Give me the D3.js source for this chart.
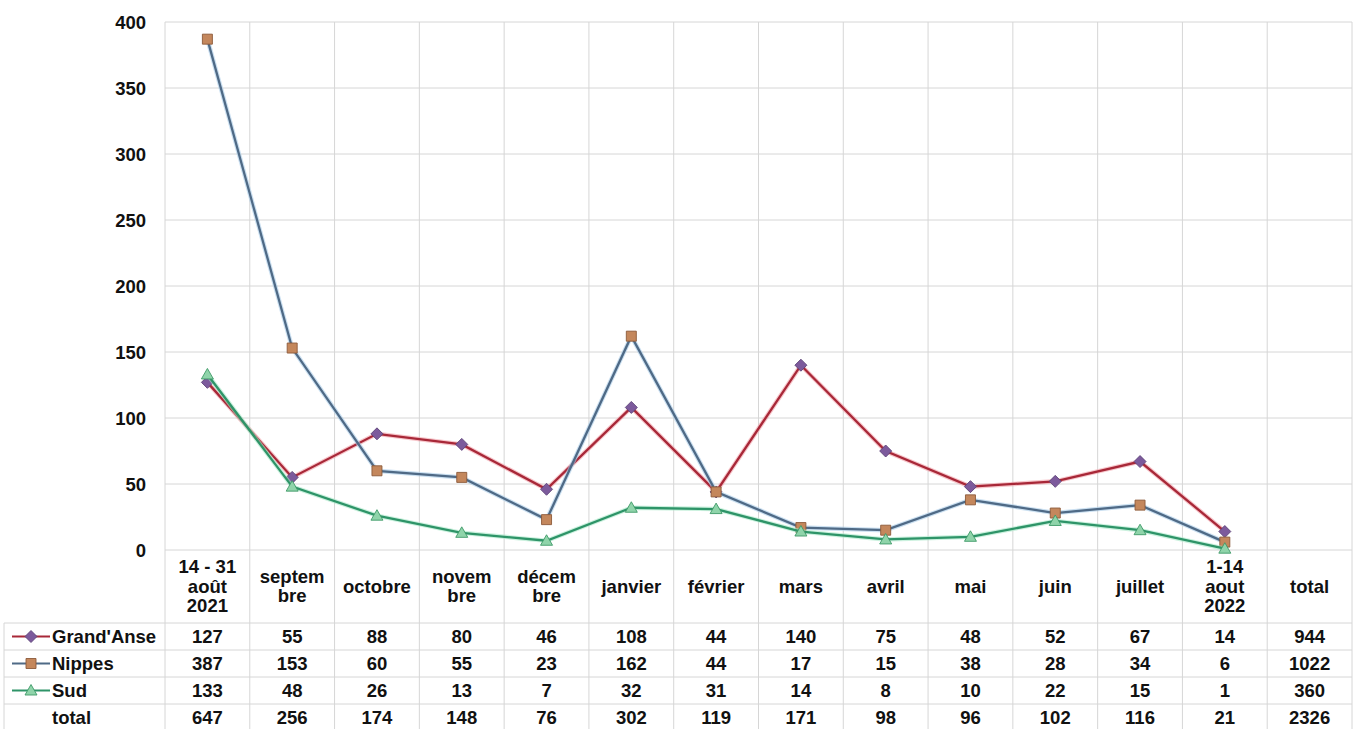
<!DOCTYPE html>
<html><head><meta charset="utf-8">
<script src="https://cdn.jsdelivr.net/npm/d3@7"></script>
<style>body{margin:0;background:#fff;}svg{display:block;font-family:"Liberation Sans",Arial,sans-serif;font-weight:bold;}</style>
</head><body><svg id="c" width="1357" height="729"></svg>
<script>
const categories = [["14 - 31","août","2021"],["septem","bre"],["octobre"],["novem","bre"],["décem","bre"],["janvier"],["février"],["mars"],["avril"],["mai"],["juin"],["juillet"],["1-14","aout","2022"],["total"]];
const seriesNames = ["Grand'Anse","Nippes","Sud"];
const grandAnse = [127,55,88,80,46,108,44,140,75,48,52,67,14];
const nippes = [387,153,60,55,23,162,44,17,15,38,28,34,6];
const sud = [133,48,26,13,7,32,31,14,8,10,22,15,1];
const seriesTotals = [944,1022,360];
const totalRow = [647,256,174,148,76,302,119,171,98,96,102,116,21,2326];
const yTicks = [0,50,100,150,200,250,300,350,400];

const svg = d3.select("#c");
const L=165, R=1352, T=22, B=550;
const x = d3.scaleBand().domain(d3.range(categories.length)).range([L,R]);
const y = d3.scaleLinear().domain([0,400]).range([B,T]);
const grid="#d6d6d6";
const FS=18.5;

svg.append("g").selectAll("line").data(yTicks).join("line")
  .attr("x1",L).attr("x2",R).attr("y1",d=>y(d)).attr("y2",d=>y(d)).attr("stroke",grid);
const ya = svg.append("g").attr("transform",`translate(${L},0)`).call(d3.axisLeft(y).tickValues(yTicks).tickSize(0).tickPadding(19));
ya.select(".domain").remove();
ya.selectAll("text").attr("font-size",FS).attr("fill","#111").attr("font-family","Liberation Sans, Arial").attr("font-weight","bold").attr("dy","0.35em");

const headB = 623, rowH = 27;
const rowsY = [headB, headB+rowH, headB+2*rowH, headB+3*rowH, headB+4*rowH];
const tableL = 4;
const xs = d3.range(categories.length+1).map(i=> i<categories.length ? x(i) : R);
svg.append("g").selectAll("line").data(xs).join("line")
  .attr("x1",d=>d).attr("x2",d=>d).attr("y1",T).attr("y2",729).attr("stroke",grid);
svg.append("line").attr("x1",tableL).attr("x2",tableL).attr("y1",headB).attr("y2",729).attr("stroke",grid);
svg.append("g").selectAll("line").data(rowsY.slice(0,4)).join("line")
  .attr("x1",tableL).attr("x2",R).attr("y1",d=>d).attr("y2",d=>d).attr("stroke",grid);

const hdr = svg.append("g");
categories.forEach((lines,i)=>{
  const cx = x(i)+x.bandwidth()/2;
  const lh=19.5, cy=586;
  const t = hdr.append("text").attr("x",cx).attr("text-anchor","middle").attr("font-size",FS).attr("fill","#111");
  lines.forEach((s,j)=>{
    t.append("tspan").attr("x",cx).attr("y",cy + (j-(lines.length-1)/2)*lh + 6.5).text(s);
  });
});

const colors = {line:["#a82838","#4f6a86","#2e9468"], glow:["#f2a0a8","#a8cce8","#a8e8c8"], mark:["#7c5a9c","#c4875c","#8fd4aa"], markStroke:["#5d4478","#8c5a3a","#3e9a68"]};
const data = [grandAnse,nippes,sud];
const line = d3.line().x((d,i)=>x(i)+x.bandwidth()/2).y(d=>y(d));

function marker(g, k, cx, cy){
  let d;
  if(k===0) d="M0,-6L6,0L0,6L-6,0Z";
  else if(k===1) d="M-5,-5H5V5H-5Z";
  else d="M0,-6L6,4.5H-6Z";
  g.append("path").attr("d",d)
   .attr("transform",`translate(${cx},${cy})`).attr("fill",colors.mark[k]).attr("stroke",colors.markStroke[k]).attr("stroke-width",0.9);
}
data.forEach((vals,k)=>{
  const g = svg.append("g");
  g.append("path").datum(vals).attr("d",line).attr("fill","none").attr("stroke",colors.glow[k]).attr("stroke-width",4.5).attr("stroke-opacity",0.6);
  g.append("path").datum(vals).attr("d",line).attr("fill","none").attr("stroke",colors.line[k]).attr("stroke-width",2.3);
  vals.forEach((v,i)=>marker(g,k,x(i)+x.bandwidth()/2,y(v)));
});

const rowVals = [grandAnse.concat([seriesTotals[0]]), nippes.concat([seriesTotals[1]]), sud.concat([seriesTotals[2]]), totalRow];
const rowLabels = seriesNames.concat(["total"]);
rowVals.forEach((vals,r)=>{
  const mid = rowsY[r]+rowH/2;
  const cy = mid+6.5;
  const g = svg.append("g");
  if(r<3){
    g.append("line").attr("x1",12).attr("x2",50).attr("y1",mid).attr("y2",mid).attr("stroke",colors.line[r]).attr("stroke-width",2);
    marker(g,r,31,mid);
  }
  g.append("text").attr("x",52).attr("y",cy).attr("font-size",FS).attr("fill","#111").text(rowLabels[r]);
  vals.forEach((v,i)=>{
    g.append("text").attr("x",x(i)+x.bandwidth()/2).attr("y",cy).attr("text-anchor","middle").attr("font-size",FS).attr("fill","#111").text(v);
  });
});
</script></body></html>
